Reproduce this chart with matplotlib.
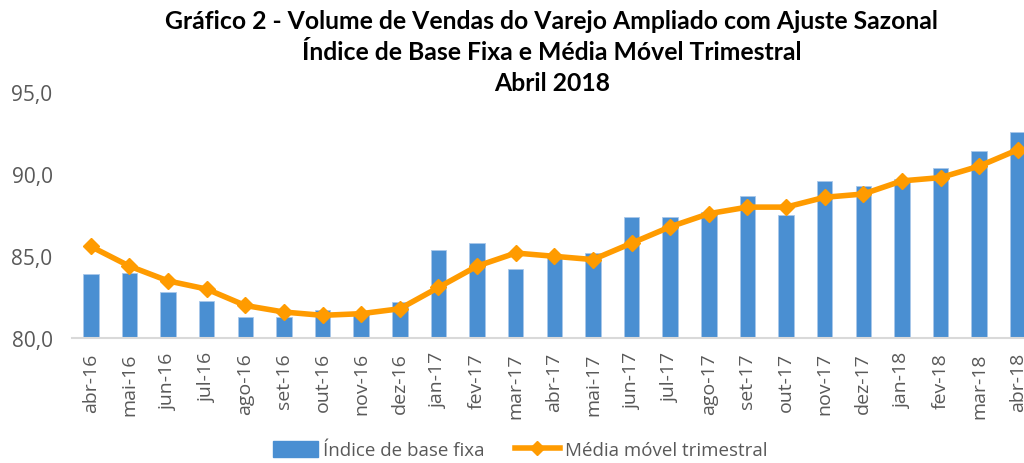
import matplotlib
matplotlib.use("Agg")
import matplotlib.pyplot as plt
from matplotlib.patches import Patch
from matplotlib.lines import Line2D

categories = ["abr-16", "mai-16", "jun-16", "jul-16", "ago-16", "set-16", "out-16",
              "nov-16", "dez-16", "jan-17", "fev-17", "mar-17", "abr-17", "mai-17",
              "jun-17", "jul-17", "ago-17", "set-17", "out-17", "nov-17", "dez-17",
              "jan-18", "fev-18", "mar-18", "abr-18"]
indice = [83.9, 84.0, 82.8, 82.3, 81.3, 81.3, 81.7, 81.6, 82.2, 85.4, 85.8, 84.2,
          84.9, 85.2, 87.4, 87.4, 87.7, 88.7, 87.5, 89.6, 89.3, 89.7, 90.4, 91.4, 92.6]
media = [85.6, 84.4, 83.5, 83.0, 82.0, 81.6, 81.4, 81.5, 81.8, 83.1, 84.4, 85.2,
         85.0, 84.8, 85.8, 86.8, 87.6, 88.0, 88.0, 88.6, 88.8, 89.6, 89.8, 90.5, 91.5]
yticks = [80.0, 85.0, 90.0, 95.0]

title = ("Gráfico 2 - Volume de Vendas do Varejo Ampliado com Ajuste Sazonal\n"
         "Índice de Base Fixa e Média Móvel Trimestral\n"
         "Abril 2018")

BLUE = "#4A8FD2"
ORANGE = "#FF9B00"
GREY = "#595959"
FONT = ["Lato", "DejaVu Sans"]
TICKFONT = ["Open Sans", "DejaVu Sans"]

fig = plt.figure(figsize=(10.24, 4.64), dpi=100)
ax = fig.add_axes([72/1024, 0.2688, (1024-72)/1024, 0.530])

x = list(range(len(categories)))
ax.bar(x, indice, width=0.40, color=BLUE, edgecolor="#A9C8EA", linewidth=0.6,
       zorder=2, label="Índice de base fixa")
ax.plot(x, media, color=ORANGE, linewidth=4.0, marker="D", markersize=8,
        markerfacecolor=ORANGE, markeredgecolor=ORANGE, zorder=3,
        label="Média móvel trimestral")

ax.set_xlim(-0.487, 24.16)
ax.set_ylim(80, 95)
ax.set_yticks(yticks)
ax.set_yticklabels([f"{v:.1f}".replace(".", ",") for v in yticks],
                   fontsize=15, color=GREY, family=TICKFONT)
ax.set_xticks(x)
ax.set_xticklabels(categories, rotation=90, fontsize=14, color=GREY, family=TICKFONT)
ax.tick_params(axis="both", length=0)
ax.tick_params(axis="y", pad=14)
ax.tick_params(axis="x", pad=10)
for s in ["top", "right", "left"]:
    ax.spines[s].set_visible(False)
ax.spines["bottom"].set_color("#D9D9D9")
ax.spines["bottom"].set_linewidth(1.5)
ax.set_facecolor("none")

fig.text(0.539, 0.978, title, ha="center", va="top", fontsize=17.8,
         fontweight="bold", family=FONT, linespacing=1.42, color="black")

handles = [Patch(facecolor=BLUE, edgecolor=BLUE),
           Line2D([0], [0], color=ORANGE, linewidth=4, marker="D", markersize=7)]
fig.legend(handles, ["Índice de base fixa", "Média móvel trimestral"],
           loc="center", bbox_to_anchor=(0.508, 0.028), ncol=2, frameon=False,
           prop={"family": TICKFONT, "size": 13.5}, labelcolor=GREY,
           handlelength=2.4, handleheight=1.0, columnspacing=1.6, handletextpad=0.3)

fig.savefig("out.png", dpi=100)
